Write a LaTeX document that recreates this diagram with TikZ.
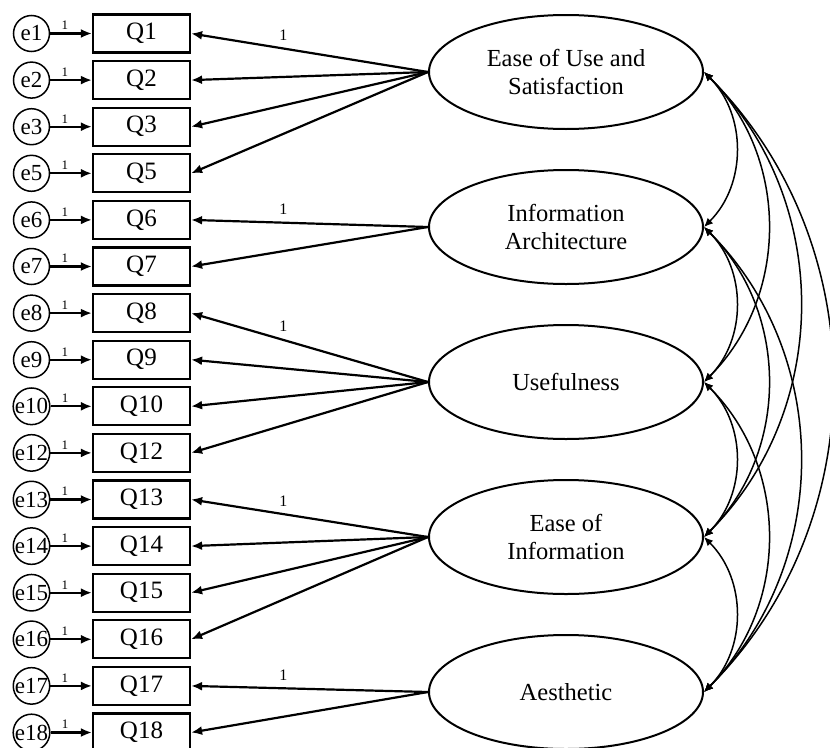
\documentclass[tikz,border=0pt]{standalone}
\usepackage{fontspec}
\setmainfont{Liberation Serif}
\usetikzlibrary{arrows.meta,shapes.geometric}
\begin{document}
\begin{tikzpicture}[x=1pt,y=-1pt,
  err/.style={draw, circle, line width=1.5pt, minimum size=36pt, inner sep=0pt, font=\fontsize{23}{25}\selectfont},
  obs/.style={draw, rectangle, line width=2.2pt, minimum width=97pt, minimum height=38pt, inner sep=0pt, font=\fontsize{25}{27}\selectfont},
  lat/.style={draw, ellipse, line width=2pt, minimum width=274pt, minimum height=114pt, inner sep=0pt, align=center, font=\fontsize{24.5}{28}\selectfont},
  arr/.style={line width=2.2pt, -{Latex[length=11pt,width=9pt]}},
  cov/.style={line width=1.5pt, {Latex[length=9pt,width=8pt]}-{Latex[length=9pt,width=8pt]}, bend left=45},
  one/.style={font=\fontsize{13}{14}\selectfont, inner sep=1pt},
  lone/.style={font=\fontsize{16}{17}\selectfont, inner sep=1pt}
]
\useasboundingbox (0,0) rectangle (830,747);

\foreach \q [count=\i from 0] in {1,2,3,5,6,7,8,9,10,12,13,14,15,16,17,18} {
  \node[err] (e\q) at (31.5, {33.5+46.6*\i}) {e\q};
  \node[obs] (Q\q) at (141.5, {33.5+46.6*\i}) {Q\q};
  \draw[arr] (e\q) -- node[one, above=1.5pt, pos=0.35]{1} (Q\q);
}

\node[lat] (L1) at (566,72) {Ease of Use and\\Satisfaction};
\node[lat] (L2) at (566,227) {Information\\Architecture};
\node[lat] (L3) at (566,382) {Usefulness};
\node[lat] (L4) at (566,537) {Ease of\\Information};
\node[lat] (L5) at (566,692) {Aesthetic};

% loadings
\draw[arr] (L1.west) -- node[lone, pos=0.61, above=6pt]{1} (Q1.east);
\foreach \q in {2,3,5} \draw[arr] (L1.west) -- (Q\q.east);
\draw[arr] (L2.west) -- node[lone, pos=0.61, above=6pt]{1} (Q6.east);
\draw[arr] (L2.west) -- (Q7.east);
\draw[arr] (L3.west) -- node[lone, pos=0.61, above=6pt]{1} (Q8.east);
\foreach \q in {9,10,12} \draw[arr] (L3.west) -- (Q\q.east);
\draw[arr] (L4.west) -- node[lone, pos=0.61, above=6pt]{1} (Q13.east);
\foreach \q in {14,15,16} \draw[arr] (L4.west) -- (Q\q.east);
\draw[arr] (L5.west) -- node[lone, pos=0.61, above=6pt]{1} (Q17.east);
\draw[arr] (L5.west) -- (Q18.east);

% covariances
\foreach \a/\b in {1/2,1/3,1/4,1/5,2/3,2/4,2/5,3/4,3/5,4/5}
  \draw[cov] (L\a.east) to (L\b.east);
\end{tikzpicture}
\end{document}
